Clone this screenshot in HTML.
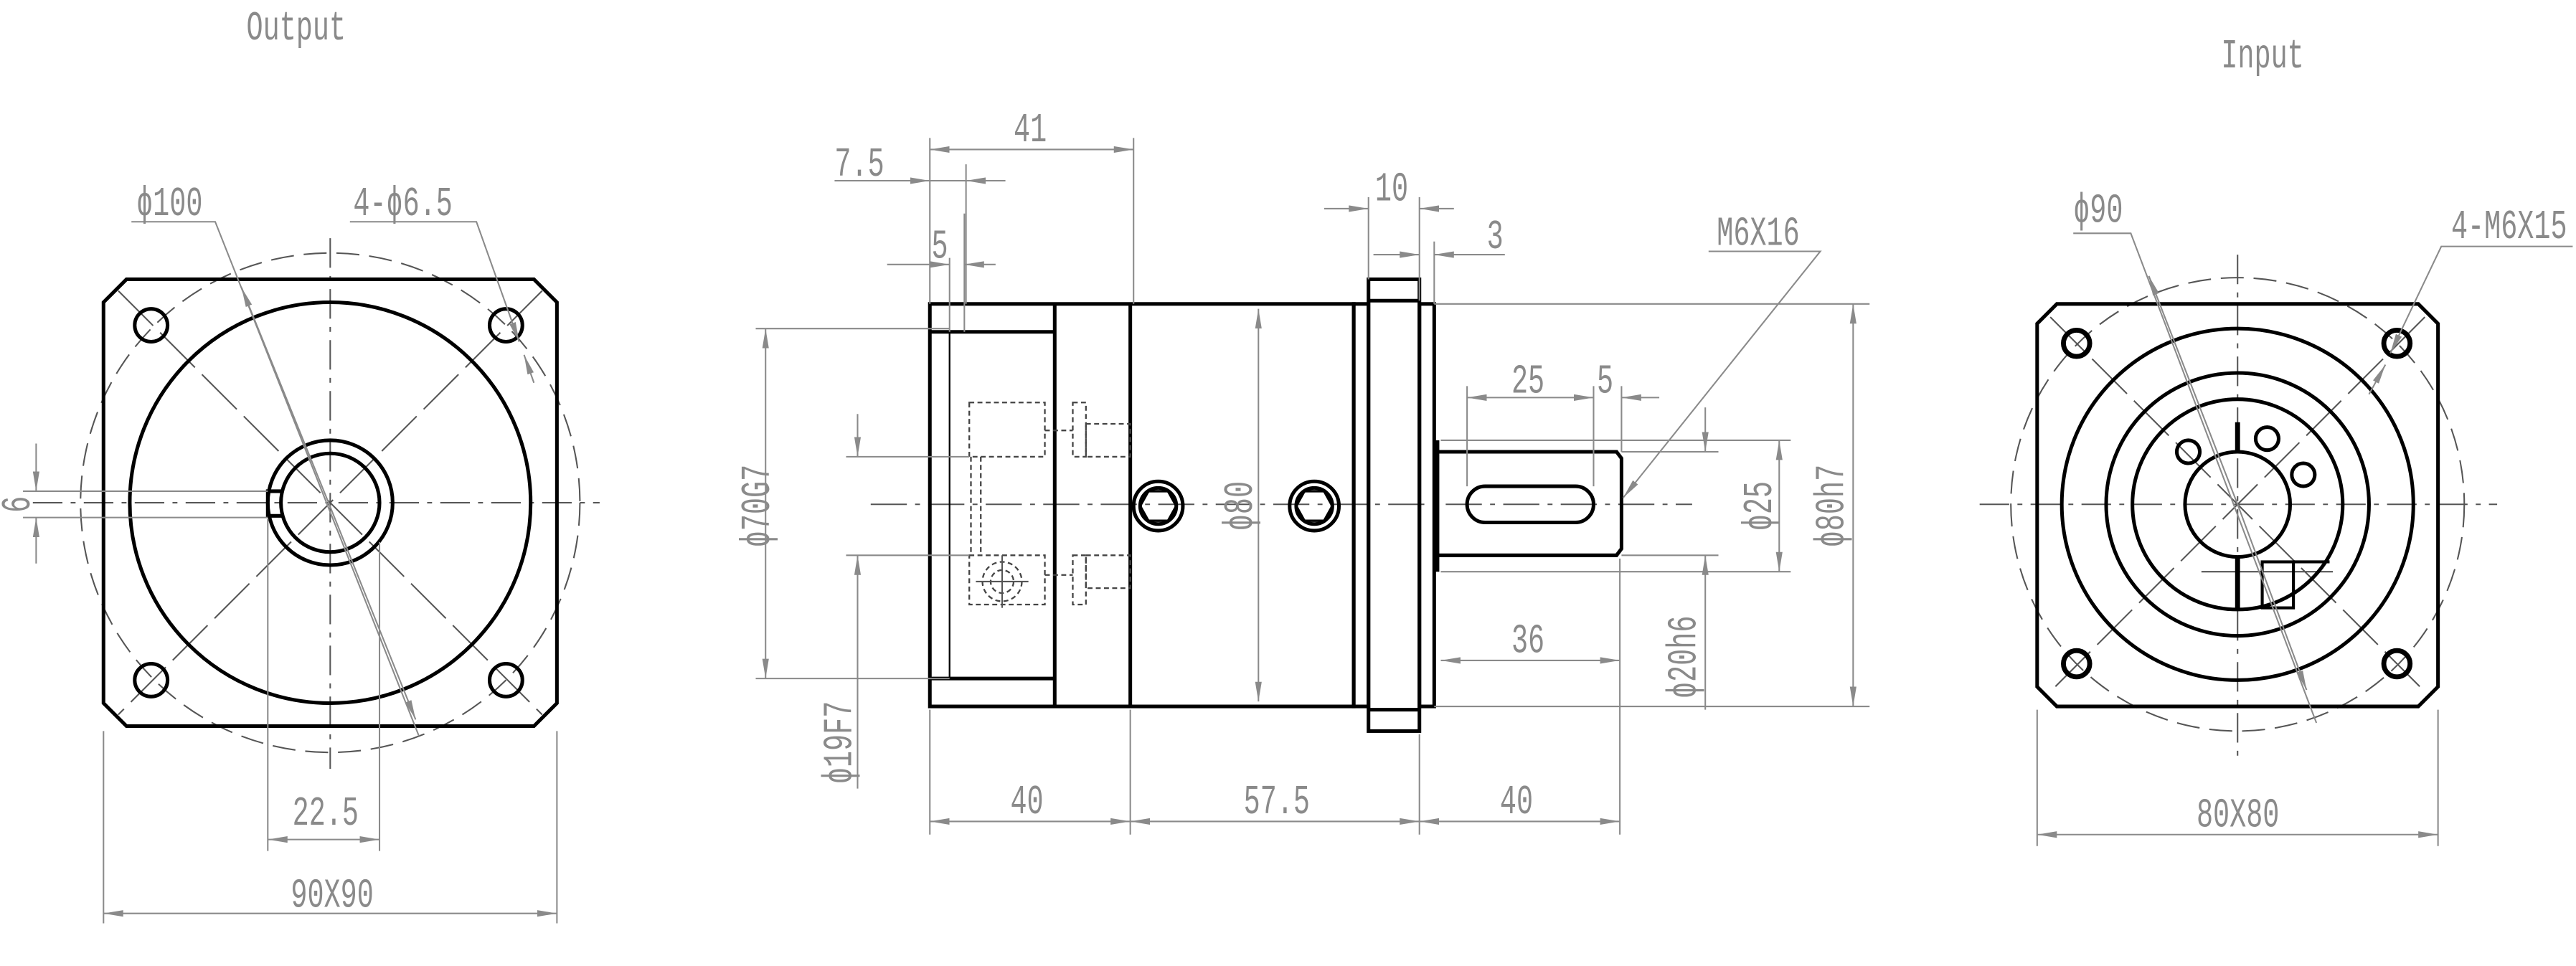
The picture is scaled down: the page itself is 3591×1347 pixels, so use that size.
<!DOCTYPE html>
<html><head><meta charset="utf-8"><style>
html,body{margin:0;padding:0;background:#fff;}
svg{display:block;}
text{font-family:"Liberation Mono",monospace;fill:#8a8a8a;font-size:21px;}
</style></head><body>
<svg width="3591" height="1347" viewBox="0 0 1568 588" preserveAspectRatio="none" xmlns="http://www.w3.org/2000/svg">
<defs>
<marker id="a" viewBox="0 0 12 4" refX="12" refY="2" markerWidth="12" markerHeight="4" markerUnits="userSpaceOnUse" orient="auto-start-reverse"><path d="M0,0 L12,2 L0,4z" fill="#8a8a8a"/></marker>
</defs>
<g fill="none" stroke-linecap="butt">
<!-- ================= OUTPUT VIEW ================= -->
<g stroke="#555" stroke-width="0.9">
<line x1="20" y1="306" x2="365" y2="306" stroke-dasharray="18,5,3,5"/>
<line x1="201" y1="145" x2="201" y2="468" stroke-dasharray="18,5,3,5"/>
<line x1="72" y1="177" x2="330" y2="435" stroke-dasharray="30,6"/>
<line x1="330" y1="177" x2="72" y2="435" stroke-dasharray="30,6"/>
<circle cx="201" cy="306" r="152" stroke-dasharray="14,6"/>
</g>
<g stroke="#000" stroke-width="2.2">
<path d="M77,170 L325,170 L339,184 L339,428 L325,442 L77,442 L63,428 L63,184 Z"/>
<circle cx="201" cy="306" r="122"/>
<circle cx="92" cy="198" r="10"/><circle cx="308" cy="198" r="10"/>
<circle cx="92" cy="414" r="10"/><circle cx="308" cy="414" r="10"/>
<circle cx="201" cy="306" r="38"/>
<circle cx="201" cy="306" r="30"/>
<path d="M172,299 L163,299 L163,314 L172,314"/>
</g>
<g stroke="#8a8a8a" stroke-width="0.9">
<line x1="63" y1="445" x2="63" y2="562"/><line x1="339" y1="445" x2="339" y2="562"/>
<line x1="63" y1="556" x2="339" y2="556" marker-start="url(#a)" marker-end="url(#a)"/>
<line x1="163" y1="316" x2="163" y2="518"/><line x1="231" y1="330" x2="231" y2="518"/>
<line x1="163" y1="511" x2="231" y2="511" marker-start="url(#a)" marker-end="url(#a)"/>
<line x1="14" y1="299" x2="163" y2="299"/><line x1="14" y1="315" x2="163" y2="315"/>
<line x1="22" y1="270" x2="22" y2="299" marker-end="url(#a)"/>
<line x1="22" y1="343" x2="22" y2="315" marker-end="url(#a)"/>
<polyline points="80,135 131,135 255,448"/>
<line x1="200" y1="306" x2="147" y2="175" marker-end="url(#a)"/>
<line x1="200" y1="306" x2="253" y2="438" marker-end="url(#a)"/>
<polyline points="213,135 290,135 316,208" marker-end="url(#a)"/>
<line x1="325" y1="233" x2="319" y2="216" marker-end="url(#a)"/>
</g>
<text transform="translate(150,24) scale(0.8,1.2)">Output</text>
<text transform="translate(83,131) scale(0.8,1.2)">ϕ100</text>
<text transform="translate(215,131) scale(0.8,1.2)">4-ϕ6.5</text>
<text transform="translate(178,502) scale(0.8,1.2)">22.5</text>
<text transform="translate(177,552) scale(0.8,1.2)">90X90</text>
<text transform="translate(18,307) rotate(-90) scale(0.8,1.2)" text-anchor="middle">6</text>

<!-- ================= SIDE VIEW ================= -->
<g stroke="#555" stroke-width="0.9">
<line x1="530" y1="307" x2="1030" y2="307" stroke-dasharray="22,5,3,5"/>
</g>
<g stroke="#000" stroke-width="2.2">
<rect x="566" y="185" width="258" height="245"/>
<line x1="642" y1="185" x2="642" y2="430"/>
<line x1="688" y1="185" x2="688" y2="430"/>
<line x1="566" y1="202" x2="642" y2="202"/>
<line x1="566" y1="413" x2="642" y2="413"/>
<line x1="578" y1="202" x2="578" y2="413" stroke-width="1"/>
<rect x="824" y="185" width="9" height="245"/>
<rect x="833" y="170" width="31" height="275"/>
<line x1="833" y1="183" x2="864" y2="183"/>
<line x1="833" y1="432" x2="864" y2="432"/>
<rect x="864" y="185" width="9" height="245"/>
<line x1="875" y1="268" x2="875" y2="348"/>
<path d="M875,275 L984,275 L987,279 L987,334 L984,338 L875,338"/>
<rect x="893" y="296" width="77" height="22" rx="11"/>
<circle cx="705" cy="308" r="15"/><circle cx="705" cy="308" r="11"/>
<path d="M699,299 L711,299 L716,308 L711,317 L699,317 L694,308Z" stroke-width="1.5"/>
<circle cx="800" cy="308" r="15"/><circle cx="800" cy="308" r="11"/>
<path d="M794,299 L806,299 L811,308 L806,317 L794,317 L789,308Z" stroke-width="1.5"/>
</g>
<g stroke="#444" stroke-width="1" stroke-dasharray="3,2">
<rect x="590" y="245" width="46" height="33"/>
<rect x="590" y="338" width="46" height="30"/>
<rect x="653" y="245" width="8" height="33"/><rect x="661" y="258" width="27" height="20"/>
<rect x="653" y="338" width="8" height="30"/><rect x="661" y="338" width="27" height="20"/>
<line x1="636" y1="262" x2="653" y2="262"/><line x1="636" y1="350" x2="653" y2="350"/>
<line x1="591" y1="278" x2="591" y2="338"/><line x1="597" y1="278" x2="597" y2="338"/>
<circle cx="610" cy="354" r="12"/><circle cx="610" cy="354" r="7"/>
</g>
<g stroke="#555" stroke-width="0.9"><line x1="594" y1="354" x2="626" y2="354"/><line x1="610" y1="338" x2="610" y2="370"/></g>
<g stroke="#8a8a8a" stroke-width="0.9">
<line x1="566" y1="432" x2="566" y2="508"/><line x1="688" y1="432" x2="688" y2="508"/>
<line x1="864" y1="447" x2="864" y2="508"/><line x1="986" y1="340" x2="986" y2="508"/>
<line x1="566" y1="500" x2="688" y2="500" marker-start="url(#a)" marker-end="url(#a)"/>
<line x1="688" y1="500" x2="864" y2="500" marker-start="url(#a)" marker-end="url(#a)"/>
<line x1="864" y1="500" x2="986" y2="500" marker-start="url(#a)" marker-end="url(#a)"/>
<line x1="566" y1="84" x2="566" y2="185"/><line x1="690" y1="84" x2="690" y2="185"/>
<line x1="566" y1="91" x2="690" y2="91" marker-start="url(#a)" marker-end="url(#a)"/>
<line x1="588" y1="100" x2="588" y2="185"/>
<line x1="508" y1="110" x2="566" y2="110" marker-end="url(#a)"/>
<line x1="612" y1="110" x2="588" y2="110" marker-end="url(#a)"/>
<line x1="566" y1="110" x2="588" y2="110"/>
<line x1="578" y1="157" x2="578" y2="202"/><line x1="587" y1="130" x2="587" y2="202"/>
<line x1="540" y1="161" x2="578" y2="161" marker-end="url(#a)"/>
<line x1="606" y1="161" x2="587" y2="161" marker-end="url(#a)"/>
<line x1="833" y1="120" x2="833" y2="170"/><line x1="864" y1="120" x2="864" y2="183"/>
<line x1="806" y1="127" x2="833" y2="127" marker-end="url(#a)"/>
<line x1="885" y1="127" x2="864" y2="127" marker-end="url(#a)"/>
<line x1="873" y1="147" x2="873" y2="185"/>
<line x1="836" y1="155" x2="864" y2="155" marker-end="url(#a)"/>
<line x1="916" y1="155" x2="873" y2="155" marker-end="url(#a)"/>
<polyline points="1040,153 1108,153 988,303" marker-end="url(#a)"/>
<line x1="893" y1="235" x2="893" y2="296"/><line x1="970" y1="235" x2="970" y2="296"/><line x1="987" y1="235" x2="987" y2="275"/>
<line x1="893" y1="242" x2="970" y2="242" marker-start="url(#a)" marker-end="url(#a)"/>
<line x1="1010" y1="242" x2="987" y2="242" marker-end="url(#a)"/>
<line x1="877" y1="402" x2="986" y2="402" marker-start="url(#a)" marker-end="url(#a)"/>
<line x1="877" y1="268" x2="1090" y2="268"/><line x1="877" y1="348" x2="1090" y2="348"/>
<line x1="1083" y1="268" x2="1083" y2="348" marker-start="url(#a)" marker-end="url(#a)"/>
<line x1="873" y1="185" x2="1138" y2="185"/><line x1="873" y1="430" x2="1138" y2="430"/>
<line x1="1128" y1="185" x2="1128" y2="430" marker-start="url(#a)" marker-end="url(#a)"/>
<line x1="987" y1="275" x2="1046" y2="275"/><line x1="987" y1="338" x2="1046" y2="338"/>
<line x1="1038" y1="248" x2="1038" y2="275" marker-end="url(#a)"/>
<line x1="1038" y1="432" x2="1038" y2="338" marker-end="url(#a)"/>
<line x1="766" y1="188" x2="766" y2="427" marker-start="url(#a)" marker-end="url(#a)"/>
<line x1="460" y1="200" x2="578" y2="200"/><line x1="460" y1="413" x2="578" y2="413"/>
<line x1="466" y1="200" x2="466" y2="413" marker-start="url(#a)" marker-end="url(#a)"/>
<line x1="515" y1="278" x2="590" y2="278"/><line x1="515" y1="338" x2="590" y2="338"/>
<line x1="522" y1="252" x2="522" y2="278" marker-end="url(#a)"/>
<line x1="522" y1="480" x2="522" y2="338" marker-end="url(#a)"/>
</g>
<text transform="translate(617,86) scale(0.8,1.2)">41</text>
<text transform="translate(508,107) scale(0.8,1.2)">7.5</text>
<text transform="translate(567,157) scale(0.8,1.2)">5</text>
<text transform="translate(837,122) scale(0.8,1.2)">10</text>
<text transform="translate(905,151) scale(0.8,1.2)">3</text>
<text transform="translate(1045,149) scale(0.8,1.2)">M6X16</text>
<text transform="translate(920,239) scale(0.8,1.2)">25</text>
<text transform="translate(972,239) scale(0.8,1.2)">5</text>
<text transform="translate(920,397) scale(0.8,1.2)">36</text>
<text transform="translate(615,495) scale(0.8,1.2)">40</text>
<text transform="translate(757,495) scale(0.8,1.2)">57.5</text>
<text transform="translate(913,495) scale(0.8,1.2)">40</text>
<text transform="translate(1078,308) rotate(-90) scale(0.8,1.2)" text-anchor="middle">ϕ25</text>
<text transform="translate(1122,308) rotate(-90) scale(0.8,1.2)" text-anchor="middle">ϕ80h7</text>
<text transform="translate(1032,400) rotate(-90) scale(0.8,1.2)" text-anchor="middle">ϕ20h6</text>
<text transform="translate(762,308) rotate(-90) scale(0.8,1.2)" text-anchor="middle">ϕ80</text>
<text transform="translate(468,308) rotate(-90) scale(0.8,1.2)" text-anchor="middle">ϕ70G7</text>
<text transform="translate(518,452) rotate(-90) scale(0.8,1.2)" text-anchor="middle">ϕ19F7</text>

<!-- ================= INPUT VIEW ================= -->
<g stroke="#555" stroke-width="0.9">
<line x1="1205" y1="307" x2="1520" y2="307" stroke-dasharray="18,5,3,5"/>
<line x1="1362" y1="155" x2="1362" y2="460" stroke-dasharray="18,5,3,5"/>
<line x1="1248" y1="193" x2="1476" y2="421" stroke-dasharray="30,6"/>
<line x1="1476" y1="193" x2="1248" y2="421" stroke-dasharray="30,6"/>
<circle cx="1362" cy="307" r="138" stroke-dasharray="14,6"/>
<line x1="1340" y1="348" x2="1420" y2="348"/>
</g>
<g stroke="#000" stroke-width="2.2">
<path d="M1252,185 L1472,185 L1484,197 L1484,418 L1472,430 L1252,430 L1240,418 L1240,197 Z"/>
<circle cx="1362" cy="307" r="107"/>
<circle cx="1362" cy="307" r="80"/>
<circle cx="1362" cy="307" r="64"/>
<circle cx="1362" cy="307" r="32"/>
<circle cx="1264" cy="209" r="8" stroke-width="3"/><circle cx="1459" cy="209" r="8" stroke-width="3"/>
<circle cx="1264" cy="404" r="8" stroke-width="3"/><circle cx="1459" cy="404" r="8" stroke-width="3"/>
<circle cx="1332" cy="275" r="7"/><circle cx="1380" cy="267" r="7"/><circle cx="1402" cy="289" r="7"/>
<line x1="1362" y1="257" x2="1362" y2="275" stroke-width="3"/>
<line x1="1362" y1="339" x2="1362" y2="370" stroke-width="3"/>
<rect x="1377" y="342" width="19" height="28" stroke-width="1.8"/>
<path d="M1396,342 L1418,342" stroke-width="1.8"/>
</g>
<g stroke="#8a8a8a" stroke-width="0.9">
<line x1="1240" y1="432" x2="1240" y2="515"/><line x1="1484" y1="432" x2="1484" y2="515"/>
<line x1="1240" y1="508" x2="1484" y2="508" marker-start="url(#a)" marker-end="url(#a)"/>
<polyline points="1262,142 1297,142 1410,440"/>
<line x1="1362" y1="307" x2="1308" y2="168" marker-end="url(#a)"/>
<line x1="1362" y1="307" x2="1404" y2="420" marker-end="url(#a)"/>
<polyline points="1566,150 1486,150 1455,215" marker-end="url(#a)"/>
<line x1="1442" y1="240" x2="1452" y2="222" marker-end="url(#a)"/>
</g>
<text transform="translate(1352,41) scale(0.8,1.2)">Input</text>
<text transform="translate(1262,135) scale(0.8,1.2)">ϕ90</text>
<text transform="translate(1492,145) scale(0.8,1.2)">4-M6X15</text>
<text transform="translate(1337,503) scale(0.8,1.2)">80X80</text>
</g>
</svg>
</body></html>
